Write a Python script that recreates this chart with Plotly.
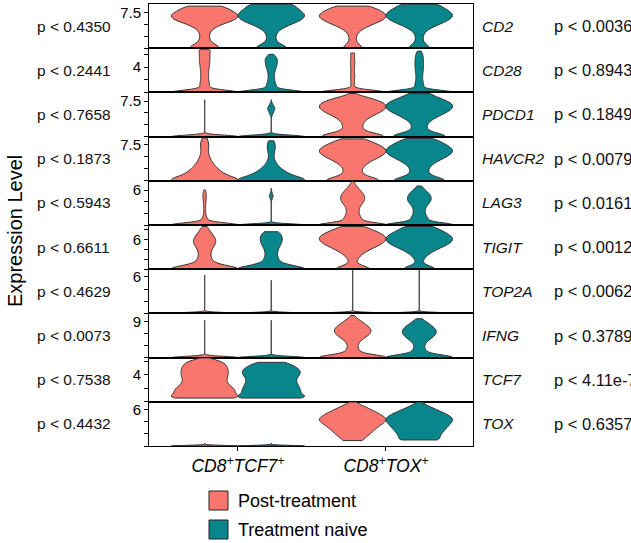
import numpy as np
import plotly.graph_objects as go
from plotly.subplots import make_subplots

# ---------------- data ----------------
genes = ["CD2", "CD28", "PDCD1", "HAVCR2", "LAG3", "TIGIT", "TOP2A", "IFNG", "TCF7", "TOX"]
p_left = ["p < 0.4350", "p < 0.2441", "p < 0.7658", "p < 0.1873", "p < 0.5943",
          "p < 0.6611", "p < 0.4629", "p < 0.0073", "p < 0.7538", "p < 0.4432"]
p_right = ["p < 0.0036", "p < 0.8943", "p < 0.1849", "p < 0.0079", "p < 0.0161",
           "p < 0.0012", "p < 0.0062", "p < 0.3789", "p < 4.11e-7", "p < 0.6357"]
groups = ["CD8+TCF7+", "CD8+TOX+"]
group_labels = ["<i>CD8<sup>+</sup>TCF7<sup>+</sup></i>", "<i>CD8<sup>+</sup>TOX<sup>+</sup></i>"]
conditions = ["Post-treatment", "Treatment naive"]

y_max = [9.35, 6.96, 9.35, 9.17, 7.6, 8.9, 7.27, 11.15, 6.5, 7.33]
y_ticks = [[0, 2.5, 5, 7.5], [0, 2, 4, 6], [0, 2.5, 5, 7.5], [0, 2.5, 5, 7.5], [0, 2, 4, 6],
           [0, 2, 4, 6, 8], [0, 2, 4, 6], [0, 3, 6, 9], [0, 2, 4, 6], [0, 2, 4, 6]]
y_label_tick = [7.5, 4, 7.5, 7.5, 6, 6, 6, 9, 4, 6]

# expression level values and cell counts at each value: (group, condition) -> (values, counts)
CD2 = {
    (0, 0): ([0, 1, 2, 3, 4, 5, 6, 7, 8, 8.9], [58, 20, 13, 13, 20, 45, 88, 100, 72, 46]),
    (0, 1): ([0, 1, 2, 3, 4, 5, 6, 7, 8, 9, 9.3], [63, 18, 12, 14, 25, 55, 90, 100, 85, 45, 38]),
    (1, 0): ([0, 1, 2, 3, 4, 5, 6, 7, 8, 8.9], [37, 12, 9, 12, 25, 55, 88, 100, 75, 43]),
    (1, 1): ([0, 1, 2, 3, 4, 5, 6, 7, 8, 9, 9.3], [42, 13, 10, 12, 25, 55, 88, 100, 85, 40, 32]),
}
CD28 = {
    (0, 0): ([0, 0.5, 1, 1.5, 2, 2.5, 3, 3.5, 4, 4.5, 5, 5.5, 6, 6.5, 6.8],
             [175, 5, 16, 14, 12, 12, 12, 12, 14, 15, 16, 16, 16, 15, 12]),
    (0, 1): ([0, 0.5, 1, 1.5, 2, 2.5, 3, 3.5, 4, 4.5, 5, 5.5, 6],
             [175, 5, 18, 12, 10, 9, 10, 12, 16, 18, 19, 18, 6]),
    (1, 0): ([0, 0.5, 1, 1.5, 2, 2.5, 3, 3.5, 4, 4.5, 5, 5.5, 6, 6.2],
             [175, 0, 5, 6, 5, 7, 5, 6, 5, 7, 6, 5, 6, 3]),
    (1, 1): ([0, 0.5, 1, 1.5, 2, 2.5, 3, 3.5, 4, 4.5, 5, 5.5, 6, 6.5],
             [175, 3, 16, 12, 10, 10, 11, 12, 13, 13, 13, 12, 11, 6]),
}
PDCD1 = {
    (0, 0): ([0, 1, 2, 3, 4, 5, 6, 7, 7.8], [1000, 1, 1, 1, 1, 1, 1, 1, 1]),
    (0, 1): ([0, 1, 2, 3, 4, 4.5, 5, 5.5, 6, 6.5, 7, 7.8], [1000, 1, 1, 1, 1, 20, 40, 60, 80, 50, 25, 1]),
    (1, 0): ([0, 1, 2, 3, 4, 5, 6, 7, 8, 9.1], [130, 30, 27, 30, 45, 75, 97, 95, 60, 2]),
    (1, 1): ([0, 1, 2, 3, 4, 5, 6, 7, 8, 9.1], [110, 25, 20, 25, 45, 75, 97, 95, 65, 33]),
}
HAVCR2 = {
    (0, 0): ([0, 1, 2, 3, 4, 5, 6, 7, 8, 8.9], [137, 70, 48, 33, 22, 15, 10, 13, 12, 6]),
    (0, 1): ([0, 1, 2, 3, 4, 5, 6, 7, 8, 8.3], [137, 65, 40, 22, 12, 7, 10, 13, 9, 3]),
    (1, 0): ([0, 1, 2, 3, 4, 5, 6, 7, 8, 8.7], [109, 30, 25, 30, 50, 80, 100, 90, 55, 19]),
    (1, 1): ([0, 1, 2, 3, 4, 5, 6, 7, 8, 8.8], [105, 30, 25, 30, 50, 80, 100, 92, 60, 30]),
}
LAG3 = {
    (0, 0): ([0, 0.5, 1, 1.5, 2, 2.5, 3, 3.5, 4, 4.5, 5, 5.5, 6],
             [175, 9, 9, 5, 3, 3, 3, 3, 4, 5, 5, 5, 3]),
    (0, 1): ([0, 1, 2, 3, 4, 4.5, 5, 5.5, 6, 6.3], [1000, 2, 2, 2, 3, 30, 60, 30, 3, 2]),
    (1, 0): ([0, 0.5, 1, 1.5, 2, 2.5, 3, 3.5, 4, 4.5, 5, 5.5, 6, 6.5, 7, 7.5],
             [160, 28, 28, 22, 19, 18, 20, 26, 33, 36, 35, 30, 22, 14, 8, 2]),
    (1, 1): ([0, 0.5, 1, 1.5, 2, 2.5, 3, 3.5, 4, 4.5, 5, 5.5, 6, 6.5, 6.7],
             [160, 28, 27, 21, 18, 17, 19, 25, 33, 36, 34, 28, 18, 8, 3]),
}
TIGIT = {
    (0, 0): ([0, 1, 2, 3, 4, 5, 6, 7, 8, 8.6], [153, 28, 22, 17, 21, 33, 35, 24, 12, 3]),
    (0, 1): ([0, 1, 2, 3, 4, 5, 6, 7, 7.55], [153, 28, 22, 17, 20, 30, 35, 28, 11]),
    (1, 0): ([0, 1, 2, 3, 4, 5, 6, 7, 8, 8.6], [76, 5, 14, 25, 50, 82, 100, 90, 50, 15]),
    (1, 1): ([0, 1, 2, 3, 4, 5, 6, 7, 8, 8.6], [70, 5, 13, 25, 50, 85, 100, 88, 50, 25]),
}
TOP2A = {
    (0, 0): ([0, 1, 2, 3, 4, 5, 6, 6.3], [2000, 1, 1, 1, 1, 1, 1, 1]),
    (0, 1): ([0, 1, 2, 3, 4, 5, 5.45], [2000, 1, 1, 1, 1, 1, 1]),
    (1, 0): ([0, 1, 2, 3, 4, 5, 6, 7, 7.2], [2000, 1, 1, 1, 1, 1, 1, 1, 1]),
    (1, 1): ([0, 1, 2, 3, 4, 5, 6, 7, 7.2], [2000, 1, 1, 1, 1, 1, 1, 1, 1]),
}
IFNG = {
    (0, 0): ([0, 1, 2, 3, 4, 5, 6, 7, 8, 9, 9.4], [1000, 1, 1, 1, 1, 1, 1, 1, 1, 1, 1]),
    (0, 1): ([0, 1, 2, 3, 4, 5, 6, 7, 8, 9, 9.4], [1000, 1, 1, 1, 1, 1, 1, 1, 1, 1, 1]),
    (1, 0): ([0, 1, 2, 3, 4, 5, 6, 7, 8, 9, 10, 10.6], [150, 21, 18, 14, 19, 35, 52, 55, 45, 28, 10, 2]),
    (1, 1): ([0, 1, 2, 3, 4, 5, 6, 7, 8, 9, 9.8], [150, 21, 18, 14, 21, 38, 50, 50, 38, 20, 5]),
}
TCF7 = {
    (0, 0): ([0.55, 1, 1.5, 2, 2.5, 3, 3.5, 4, 4.5, 5, 5.5, 6, 6.45],
             [119, 95, 100, 93, 78, 70, 72, 76, 76, 74, 68, 54, 3]),
    (0, 1): ([0.55, 1, 1.5, 2, 2.5, 3, 3.5, 4, 4.5, 5, 5.5, 5.8],
             [130, 97, 100, 97, 90, 84, 86, 97, 100, 90, 60, 30]),
}
TOX = {
    (0, 0): ([0, 0.25, 0.5], [1000, 1, 1]),
    (0, 1): ([0, 0.25, 0.5], [1000, 1, 1]),
    (1, 0): ([0.9, 1.5, 2, 2.5, 3, 3.5, 4, 4.5, 5, 5.5, 6, 6.5, 7, 7.3],
             [38, 42, 50, 60, 70, 82, 95, 100, 88, 72, 55, 37, 15, 5]),
    (1, 1): ([1.0, 1.5, 2, 2.5, 3, 3.5, 4, 4.5, 5, 5.5, 6, 6.5, 7, 7.3],
             [67, 58, 65, 72, 80, 88, 96, 100, 90, 72, 52, 32, 12, 4]),
}
expression = {"CD2": CD2, "CD28": CD28, "PDCD1": PDCD1, "HAVCR2": HAVCR2, "LAG3": LAG3,
              "TIGIT": TIGIT, "TOP2A": TOP2A, "IFNG": IFNG, "TCF7": TCF7, "TOX": TOX}

# ---------------- style ----------------
colors = ["#F8766D", "#09868B"]
outline = "#333333"
FONT = "Liberation Sans, Arial, sans-serif"
row_bw = {"CD2": 0.65, "CD28": 0.35, "PDCD1": 0.65, "HAVCR2": 0.65, "LAG3": 0.35,
          "TIGIT": 0.65, "TOP2A": 0.15, "IFNG": 0.65, "TCF7": 0.35, "TOX": 0.35}
bw_override = {("PDCD1", 0, 0): 0.3, ("PDCD1", 0, 1): 0.3, ("LAG3", 0, 1): 0.2,
               ("IFNG", 0, 0): 0.3, ("IFNG", 0, 1): 0.3, ("TOX", 0, 0): 0.1, ("TOX", 0, 1): 0.1}
offsets = [-0.225, 0.225]
violin_width = 0.45

W, H = 631, 543
L, R, T, B = 149, 158, 4, 97
pw, ph = W - L - R, H - T - B


def px2x(px):
    return (px - L) / pw


def py2y(py):
    return (H - B - py) / ph


n = len(genes)
fig = make_subplots(rows=n, cols=1, shared_xaxes=True, vertical_spacing=0)

for r, gene in enumerate(genes):
    data = expression[gene]
    for gi in range(len(groups)):
        for ci in range(len(conditions)):
            if (gi, ci) not in data:
                continue
            vals, cnts = data[(gi, ci)]
            y = np.repeat(np.array(vals, dtype=float), np.array(cnts, dtype=int))
            bw = bw_override.get((gene, gi, ci), row_bw[gene])
            fig.add_trace(go.Violin(
                y=y, x0=gi + 1 + offsets[ci], width=violin_width, side="both",
                points=False, spanmode="hard", bandwidth=bw, scalemode="width",
                fillcolor=colors[ci], line=dict(color=outline, width=1), opacity=1,
                box_visible=False, meanline_visible=False,
                showlegend=False, hoverinfo="skip", name=conditions[ci]),
                row=r + 1, col=1)

    minor_vals = [v for v in y_ticks[r] if v != y_label_tick[r]]
    fig.update_yaxes(row=r + 1, col=1, range=[0, y_max[r]], automargin=False,
                     tickvals=[y_label_tick[r]], ticktext=["%g" % y_label_tick[r]],
                     ticks="outside", ticklen=4, tickwidth=1, tickcolor="black",
                     minor=dict(tickvals=minor_vals, ticks="outside", ticklen=4,
                                tickwidth=1, tickcolor="black", showgrid=False),
                     showline=True, linecolor="black", linewidth=1, mirror=True,
                     showgrid=False, zeroline=False,
                     tickfont=dict(family=FONT, size=15, color="black"))
    last = (r == n - 1)
    fig.update_xaxes(row=r + 1, col=1, range=[0.399, 2.588], type="linear", automargin=False,
                     showline=True, linecolor="black", linewidth=1, mirror=True,
                     showgrid=False, zeroline=False,
                     tickvals=[1, 2], ticktext=group_labels,
                     ticks="outside" if last else "", ticklen=4, tickwidth=1, tickcolor="black",
                     showticklabels=last,
                     tickfont=dict(family=FONT, size=17.5, color="black"))

    yref = "y domain" if r == 0 else "y%d domain" % (r + 1)
    fig.add_annotation(text=p_left[r], xref="paper", yref=yref, x=px2x(35), y=0.5,
                       xanchor="left", yanchor="middle", showarrow=False,
                       font=dict(family=FONT, size=15.5, color="#111111"))
    fig.add_annotation(text="<i>%s</i>" % gene, xref="paper", yref=yref, x=px2x(480), y=0.5,
                       xanchor="left", yanchor="middle", showarrow=False,
                       font=dict(family=FONT, size=15.5, color="#111111"))
    fig.add_annotation(text=p_right[r], xref="paper", yref=yref, x=px2x(552), y=0.5,
                       xanchor="left", yanchor="middle", showarrow=False,
                       font=dict(family=FONT, size=16.5, color="#111111"))

# y-axis title
fig.add_annotation(text="Expression Level", xref="paper", yref="paper", x=px2x(15), y=py2y(231),
                   xanchor="center", yanchor="middle", textangle=-90, showarrow=False,
                   font=dict(family=FONT, size=20, color="black"))

# legend
legend_rows = [(491, 510), (520, 539)]
for ci, (top, bot) in enumerate(legend_rows):
    fig.add_shape(type="rect", xref="paper", yref="paper",
                  x0=px2x(209), x1=px2x(228), y0=py2y(bot), y1=py2y(top),
                  fillcolor=colors[ci], line=dict(color="#222222", width=1))
    fig.add_annotation(text=conditions[ci], xref="paper", yref="paper",
                       x=px2x(236), y=py2y((top + bot) / 2), xanchor="left", yanchor="middle",
                       showarrow=False, font=dict(family=FONT, size=18, color="black"))

fig.update_layout(width=W, height=H, margin=dict(l=L, r=R, t=T, b=B, autoexpand=False),
                  paper_bgcolor="white", plot_bgcolor="white",
                  violinmode="overlay", violingap=0, violingroupgap=0,
                  showlegend=False, font=dict(family=FONT, color="black"))

fig.write_html("out.html", config={"displayModeBar": False},
               post_script="document.body.style.margin='0';document.body.style.overflow='hidden';")
